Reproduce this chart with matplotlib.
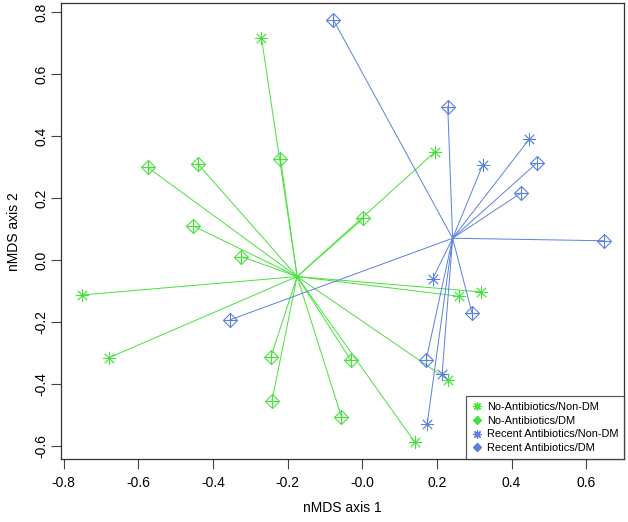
import matplotlib
matplotlib.use("Agg")
import matplotlib.pyplot as plt
from matplotlib.lines import Line2D
import numpy as np

plt.rcParams['font.family'] = ['Liberation Sans', 'DejaVu Sans']

# ---- data (nMDS scores) ----
noab_nondm_x = [-0.270, 0.195, -0.752, -0.678, 0.259, 0.318, 0.230, 0.141]
noab_nondm_y = [0.717, 0.349, -0.113, -0.315, -0.117, -0.103, -0.387, -0.588]

noab_dm_x = [-0.575, -0.441, -0.219, -0.453, -0.324, 0.003, -0.245, -0.242, -0.030, -0.056]
noab_dm_y = [0.299, 0.311, 0.327, 0.110, 0.011, 0.134, -0.314, -0.455, -0.324, -0.505]

recab_nondm_x = [0.447, 0.323, 0.189, 0.214, 0.174]
recab_nondm_y = [0.389, 0.307, -0.060, -0.367, -0.529]

recab_dm_x = [-0.077, 0.229, 0.467, 0.424, 0.647, -0.354, 0.294, 0.171]
recab_dm_y = [0.774, 0.495, 0.312, 0.215, 0.062, -0.193, -0.171, -0.323]

labels = ["No-Antibiotics/Non-DM", "No-Antibiotics/DM",
          "Recent Antibiotics/Non-DM", "Recent Antibiotics/DM"]

green = "#45e33a"
blue = "#5a80e2"

# ---- figure ----
fig = plt.figure(figsize=(6.28, 5.22), dpi=100)
ax = fig.add_axes([0.0971, 0.1201, 0.8970, 0.8736])

asterisk = (8, 2, 0)

def spider(xs, ys, color):
    cx, cy = np.mean(xs), np.mean(ys)
    for x, y in zip(xs, ys):
        ax.plot([cx, x], [cy, y], color=color, lw=0.7, zorder=2)

# spider lines to group centroid (antibiotic groups)
spider(noab_nondm_x + noab_dm_x, noab_nondm_y + noab_dm_y, green)
spider(recab_nondm_x + recab_dm_x, recab_nondm_y + recab_dm_y, blue)

def draw_star(xs, ys, color):
    ax.plot(xs, ys, ls='none', marker=asterisk, ms=9.5, mew=0.6,
            color=color, zorder=3)

def draw_diamond(xs, ys, color):
    ax.plot(xs, ys, ls='none', marker='D', ms=6.8, mew=0.8,
            mfc='none', mec=color, zorder=3)
    ax.plot(xs, ys, ls='none', marker='+', ms=9.6, mew=0.8,
            color=color, zorder=3)

draw_star(noab_nondm_x, noab_nondm_y, green)
draw_diamond(noab_dm_x, noab_dm_y, green)
draw_star(recab_nondm_x, recab_nondm_y, blue)
draw_diamond(recab_dm_x, recab_dm_y, blue)

ax.set_xlim(-0.807, 0.702)
ax.set_ylim(-0.643, 0.828)
ax.set_xticks(np.arange(-0.8, 0.61, 0.2))
ax.set_yticks(np.arange(-0.6, 0.81, 0.2))
ax.xaxis.set_major_formatter(matplotlib.ticker.FormatStrFormatter('%.1f'))
ax.yaxis.set_major_formatter(matplotlib.ticker.FormatStrFormatter('%.1f'))
ax.tick_params(axis='both', direction='out', length=7, width=0.8,
               labelsize=10, color='#444444')
ax.tick_params(axis='x', pad=5)
ax.tick_params(axis='y', pad=2)
for lab in ax.get_yticklabels():
    lab.set_rotation(90)
    lab.set_va('center')
for sp in ax.spines.values():
    sp.set_linewidth(0.9)
    sp.set_color('#333333')

ax.set_xlabel("nMDS axis 1", fontsize=10, labelpad=8)
ax.set_ylabel("nMDS axis 2", fontsize=10, labelpad=10)

# legend
def dm_handle(color):
    d = Line2D([], [], ls='none', marker='D', ms=4, mfc=color, mec=color)
    return d

handles = [
    Line2D([], [], ls='none', marker=asterisk, ms=6, mew=0.9, color=green),
    dm_handle(green),
    Line2D([], [], ls='none', marker=asterisk, ms=6, mew=0.9, color=blue),
    dm_handle(blue),
]
leg = ax.legend(handles, labels, loc='lower right', fontsize=7.9,
                frameon=True, fancybox=False, borderpad=0.55,
                handlelength=0.8, handletextpad=0.5, labelspacing=0.35,
                borderaxespad=0)
leg.get_frame().set_edgecolor('#333333')
leg.get_frame().set_linewidth(0.9)

fig.savefig("out.png", dpi=100)
